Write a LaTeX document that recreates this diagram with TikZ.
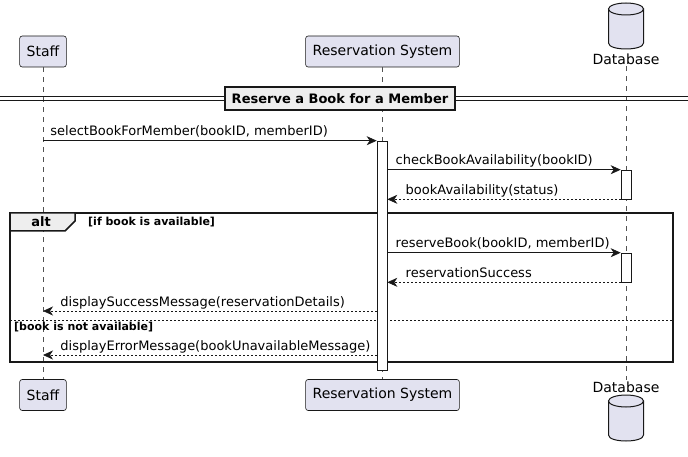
\documentclass[tikz,border=0pt]{standalone}
\usepackage{fontspec}
\setmainfont{DejaVu Sans}
\usetikzlibrary{arrows.meta}
\definecolor{partfill}{HTML}{E2E2F0}
\definecolor{inkgray}{HTML}{181818}
\definecolor{boxgray}{HTML}{EEEEEE}
\tikzset{>={Stealth[length=10pt,width=9pt,inset=3pt]}}
\tikzset{
  participant/.style={draw=inkgray, fill=partfill, rounded corners=2.5pt, line width=0.6pt,
    minimum height=31pt, inner xsep=7pt, font=\fontsize{14}{16}\selectfont},
  dblabel/.style={inner xsep=0pt, inner ysep=1.5pt, font=\fontsize{14}{16}\selectfont},
  lifeline/.style={draw=inkgray!75, dash pattern=on 5pt off 5pt, line width=0.5pt},
  activation/.style={draw=inkgray, fill=white, line width=0.6pt, minimum width=10pt, inner sep=0pt},
  msg/.style={->, draw=inkgray, line width=0.8pt},
  reply/.style={msg, dash pattern=on 2pt off 2pt},
  msglabel/.style={anchor=base west, inner sep=0pt, yshift=5pt, font=\fontsize{13}{15}\selectfont},
  guard/.style={anchor=west, inner sep=0pt, font=\fontsize{11}{13}\selectfont\bfseries},
  frameline/.style={draw=inkgray, line width=1.5pt},
}
% database drum: x centre, top y
\newcommand{\dbdrum}[2]{%
  \filldraw[fill=partfill, draw=inkgray, line width=1pt]
    (#1-17.5,#2+6) -- (#1-17.5,#2+40)
    .. controls (#1-17.5,#2+48) and (#1+17.5,#2+48) .. (#1+17.5,#2+40)
    -- (#1+17.5,#2+6) -- cycle;
  \filldraw[fill=partfill, draw=inkgray, line width=1pt]
    (#1,#2+6) ellipse [x radius=17.5, y radius=6];
}

\begin{document}
\begin{tikzpicture}[x=1pt, y=-1pt]
  \useasboundingbox (0,0) rectangle (688,457);

  % Participants
  \node[participant] (staffTop) at (43,51.5)  {Staff};
  \node[participant] (staffBot) at (43,395)   {Staff};
  \node[participant] (rsTop)    at (382.5,51.5) {Reservation System};
  \node[participant] (rsBot)    at (382.5,395)  {Reservation System};
  \dbdrum{626}{3}
  \node[dblabel] (dbTop) at (626,59)  {Database};
  \node[dblabel] (dbBot) at (626,387) {Database};
  \dbdrum{626}{395}

  % Lifelines
  \draw[lifeline] (staffTop) -- (staffBot);
  \draw[lifeline] (rsTop) -- (rsBot);
  \draw[lifeline] (dbTop) -- (dbBot);

  % Divider
  \draw[inkgray, line width=1.2pt] (0,96.5) -- (688,96.5);
  \draw[inkgray, line width=1.2pt] (0,100.5) -- (688,100.5);
  \node[draw=inkgray, fill=boxgray, line width=1.5pt, minimum height=23pt, inner xsep=6.5pt,
    font=\fontsize{13}{15}\selectfont\bfseries] (divider) at (340,98.5) {Reserve a Book for a Member};

  % Alt frame
  \draw[frameline] (10,213) rectangle (673,362);
  \filldraw[frameline, fill=boxgray] (10,213) -- (75,213) -- (75,221) -- (65,231) -- (10,231) -- cycle;
  \node[font=\fontsize{13}{15}\selectfont\bfseries, inner sep=0pt] (altTag) at (41,222) {alt};
  \node[guard] (guardA) at (88,222) {[if book is available]};
  \draw[inkgray, line width=0.8pt, dash pattern=on 2pt off 2pt] (10,320) -- (673,320);
  \node[guard] (guardB) at (14,327.5) {[book is not available]};

  % Activations
  \node[activation, minimum height=229pt] (actRS)  at (382,255.5) {};
  \node[activation, minimum height=29pt]  (actDB1) at (626,184.5) {};
  \node[activation, minimum height=29pt]  (actDB2) at (626,267.5) {};
  \coordinate (okY)  at (0,311);
  \coordinate (errY) at (0,355);

  % Messages
  \draw[msg] (staffTop.south |- actRS.north) -- (actRS.north west)
    node[msglabel, at start, xshift=7pt] {selectBookForMember(bookID, memberID)};
  \draw[msg] (actRS.east |- actDB1.north) -- (actDB1.north west)
    node[msglabel, at start, xshift=8pt] {checkBookAvailability(bookID)};
  \draw[reply] (actDB1.south west) -- (actRS.east |- actDB1.south)
    node[msglabel, at end, xshift=18pt] {bookAvailability(status)};
  \draw[msg] (actRS.east |- actDB2.north) -- (actDB2.north west)
    node[msglabel, at start, xshift=8pt] {reserveBook(bookID, memberID)};
  \draw[reply] (actDB2.south west) -- (actRS.east |- actDB2.south)
    node[msglabel, at end, xshift=18pt] {reservationSuccess};
  \draw[reply] (actRS.west |- okY) -- (staffTop.south |- okY)
    node[msglabel, at end, xshift=17pt] {displaySuccessMessage(reservationDetails)};
  \draw[reply] (actRS.west |- errY) -- (staffTop.south |- errY)
    node[msglabel, at end, xshift=17pt] {displayErrorMessage(bookUnavailableMessage)};

\end{tikzpicture}
\end{document}
